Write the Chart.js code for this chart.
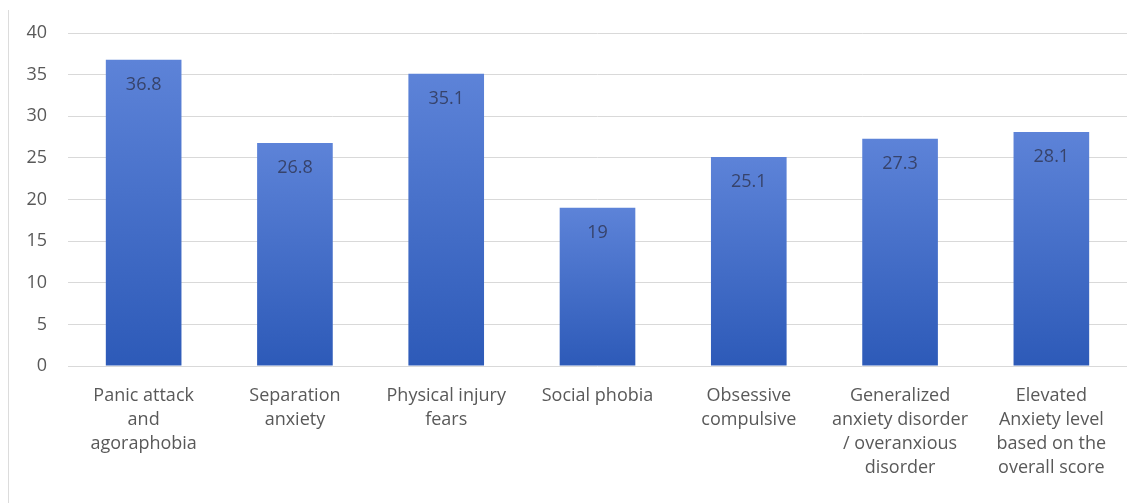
<!DOCTYPE html>
<html>
<head>
<meta charset="utf-8">
<script src="https://cdn.jsdelivr.net/npm/chart.js"></script>
<style>
  html, body { margin: 0; background: #ffffff; }
  #frame {
    position: absolute;
    left: 8px;
    top: 10px;
    width: 1133px;
    height: 493px;
    border-left: 1px solid #dcdcdc;
  }
</style>
</head>
<body>
<div id="frame"><canvas id="anxietyChart" width="1133" height="493"></canvas></div>

<script>
// ---- data ----
const categories = [
    ["Panic attack", "and", "agoraphobia"],
    ["Separation", "anxiety"],
    ["Physical injury", "fears"],
    ["Social phobia"],
    ["Obsessive", "compulsive"],
    ["Generalized", "anxiety disorder", "/ overanxious", "disorder"],
    ["Elevated", "Anxiety level", "based on the", "overall score"]
];
const prevalence = [36.8, 26.8, 35.1, 19, 25.1, 27.3, 28.1];
const yTicks = [0, 5, 10, 15, 20, 25, 30, 35, 40];

const FONT = '"Open Sans", "Noto Sans", sans-serif';

// vertical gradient on each bar, lighter at the top
function barFill(c) {
    const chart = c.chart;
    if (!chart.chartArea || c.type !== "data") return "#4472c4";
    const y = chart.scales.y;
    const top = y.getPixelForValue(c.raw);
    const bottom = y.getPixelForValue(0);
    const g = chart.ctx.createLinearGradient(0, top, 0, bottom);
    g.addColorStop(0, "#5d83d8");
    g.addColorStop(1, "#2d5ab8");
    return g;
}

// value printed just inside the top of each bar
const valueLabels = {
    id: "valueLabels",
    afterDatasetsDraw(chart) {
        const ctx = chart.ctx;
        const meta = chart.getDatasetMeta(0);
        ctx.save();
        ctx.font = "18px " + FONT;
        ctx.fillStyle = "#37436b";
        ctx.textAlign = "center";
        ctx.textBaseline = "middle";
        meta.data.forEach(function (bar, i) {
            ctx.fillText(String(prevalence[i]), bar.x, bar.y + 25);
        });
        ctx.restore();
    }
};

new Chart(document.getElementById("anxietyChart"), {
    type: "bar",
    data: {
        labels: categories,
        datasets: [{
            data: prevalence,
            backgroundColor: barFill,
            borderWidth: 0,
            categoryPercentage: 1,
            barPercentage: 0.5
        }]
    },
    options: {
        responsive: false,
        animation: false,
        layout: { padding: { top: 23, right: 15, bottom: 0, left: 0 } },
        plugins: {
            legend: { display: false },
            tooltip: { enabled: false }
        },
        scales: {
            y: {
                min: 0,
                max: 40,
                afterBuildTicks: function (scale) {
                    scale.ticks = yTicks.map(function (v) { return { value: v }; });
                },
                afterFit: function (scale) {
                    scale.width = 59;
                    scale.paddingTop = 0;
                    scale.paddingBottom = 0;
                },
                grid: { color: "#d9d9d9", lineWidth: 1, drawTicks: false },
                border: { display: false },
                ticks: {
                    padding: 21,
                    color: "#595959",
                    font: { family: FONT, size: 18 }
                }
            },
            x: {
                afterFit: function (scale) {
                    scale.height = 137;
                    scale.paddingLeft = 0;
                    scale.paddingRight = 0;
                },
                grid: { display: false, drawTicks: false },
                border: { display: false },
                ticks: {
                    padding: 18,
                    maxRotation: 0,
                    autoSkip: false,
                    color: "#595959",
                    font: { family: FONT, size: 18, lineHeight: "24px" }
                }
            }
        }
    },
    plugins: [valueLabels]
});
</script>
</body>
</html>
